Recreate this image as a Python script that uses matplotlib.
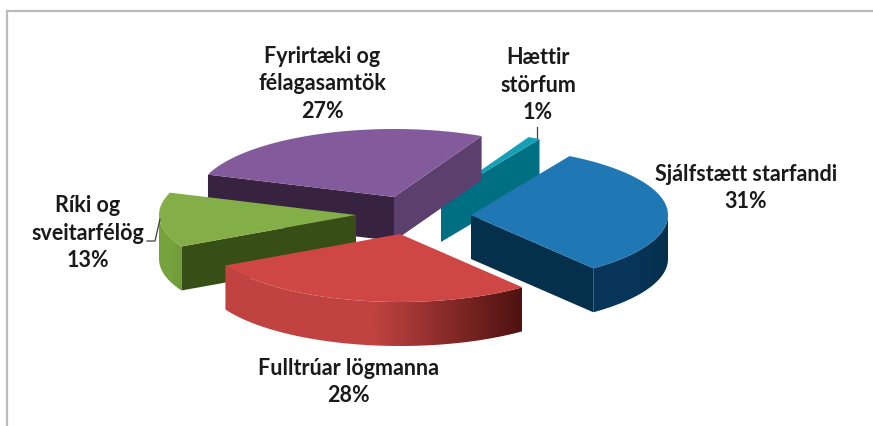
#!/usr/bin/env python

import numpy as np
import matplotlib
matplotlib.use("Agg")
import matplotlib.pyplot as plt
from matplotlib.colors import LinearSegmentedColormap
from matplotlib.patches import Polygon

plt.rcParams['font.family'] = ['Lato', 'DejaVu Sans']

categories = ["Sjálfstætt starfandi", "Fulltrúar lögmanna", "Ríki og\nsveitarfélög", "Fyrirtæki og\nfélagasamtök", "Hættir\nstörfum"]
shares = [31, 28, 13, 27, 1]

# look of the slices, same order as categories
apex = [(471, 215), (400, 234), (356, 215), (394, 197), (441, 198)]
top_colors = ["#1f78b4", "#cf4744", "#84ae48", "#835a9b", "#16a0b5"]
rim_left = ["#08355a", "#c04341", "#76a33d", "#5b3f6c", "#006f82"]
rim_right = ["#04304c", "#4e1210", "#6f9a3a", "#5b3f6c", "#006f82"]
start_face = ["#04304c", "#8e2f2d", "#374f17", "#37233f", "#006f82"]
end_face = ["#04304c", "#8e2f2d", "#374f17", "#5b3f6c", "#006f82"]
label_xy = [(746, 188), (348, 382), (88, 233), (322, 84), (538, 85)]
draw_order = [4, 3, 2, 0, 1]

rx, ry = 197, 68
depth = 44
start_angle = 60


def ellipse_xy(center, ang):
    ang = np.radians(ang)
    return center[0] + rx * np.cos(ang), center[1] - ry * np.sin(ang)


def draw_rim(ax, i, angles, z):
    # only the part of the arc on the near side shows
    angles = angles[np.sin(np.radians(angles)) <= 0]
    if len(angles) < 2:
        return
    xs, ys = ellipse_xy(apex[i], angles)
    outline = list(zip(xs, ys)) + list(zip(xs[::-1], ys[::-1] + depth))
    cmap = LinearSegmentedColormap.from_list("rim", [rim_left[i], rim_left[i], rim_right[i]])
    shade = np.linspace(0, 1, 256).reshape(1, -1)
    img = ax.imshow(shade, cmap=cmap, aspect="auto", interpolation="bilinear", zorder=z,
                    extent=(xs.min(), xs.max(), ys.max() + depth, ys.min()))
    clip = Polygon(outline, transform=ax.transData, fc="none", lw=0)
    ax.add_patch(clip)
    img.set_clip_path(clip)


def draw_slice(ax, i, a_start, a_end, z):
    c = apex[i]
    angles = np.linspace(a_start, a_end, 160)
    xs, ys = ellipse_xy(c, angles)

    # the flat cut sides, only when they face the viewer
    if np.cos(np.radians(a_start)) < 0:
        x0, y0 = ellipse_xy(c, a_start)
        ax.add_patch(Polygon([c, (x0, y0), (x0, y0 + depth), (c[0], c[1] + depth)], color=start_face[i], lw=0, zorder=z))
    if np.sin(np.radians(a_end - 90)) < 0:
        x1, y1 = ellipse_xy(c, a_end)
        ax.add_patch(Polygon([c, (x1, y1), (x1, y1 + depth), (c[0], c[1] + depth)], color=end_face[i], lw=0, zorder=z))

    draw_rim(ax, i, angles, z)
    ax.add_patch(Polygon([c] + list(zip(xs, ys)), color=top_colors[i], lw=0, zorder=z + 0.5))


fig = plt.figure(figsize=(8.73, 4.26), dpi=100)
ax = fig.add_axes([0, 0, 1, 1])

# frame of the pasted chart
ax.plot([7, 7, 873], [426, 11, 11], color="#b9bcb9", lw=1.6, solid_joinstyle="miter")

sweep = np.array(shares) / sum(shares) * 360
ends = start_angle - np.cumsum(sweep)
starts = ends + sweep
for n, i in enumerate(draw_order):
    draw_slice(ax, i, starts[i], ends[i], n + 1)

ax.set_xlim(0, 873)
ax.set_ylim(426, 0)
ax.axis("off")

# leader lines
ax.plot([147, 155, 160], [241, 241, 219], color="#404040", lw=0.9, zorder=10)
ax.plot([537, 537], [127, 138], color="#404040", lw=0.9, zorder=10)

for name, share, (x, y) in zip(categories, shares, label_xy):
    ax.text(x, y, f"{name}\n{share}%", ha="center", va="center", fontsize=15.5,
            fontweight="bold", color="#1a1a1a", linespacing=1.4, zorder=11)

fig.savefig("out.png", dpi=100)
